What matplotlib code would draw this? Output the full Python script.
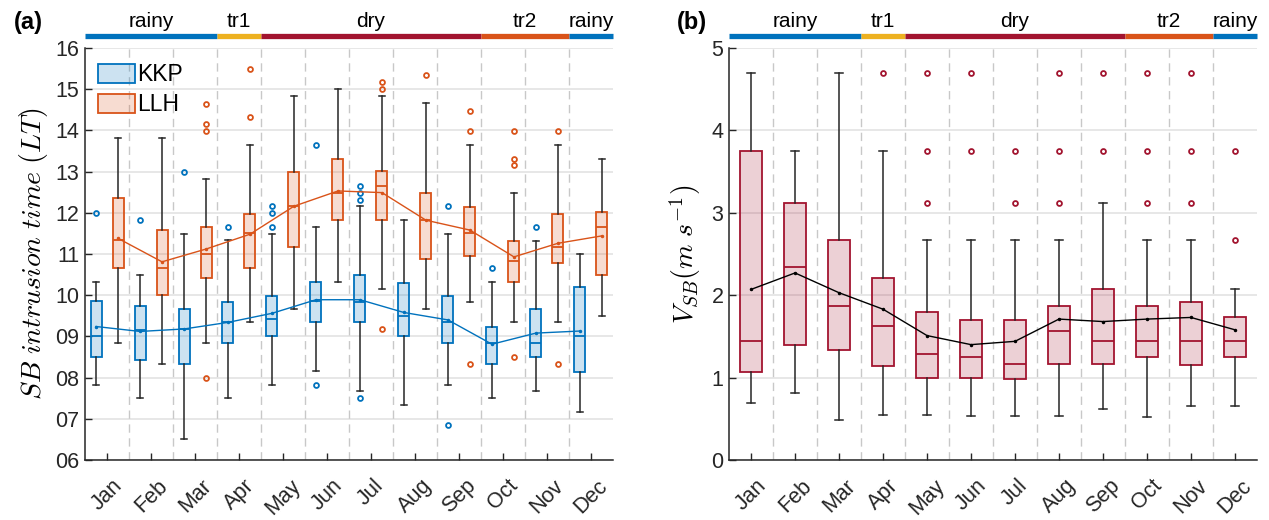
import numpy as np
import matplotlib
matplotlib.use("Agg")
import matplotlib.pyplot as plt
from matplotlib.patches import Patch
from matplotlib.colors import to_rgba

plt.rcParams['font.family'] = ['Liberation Sans', 'DejaVu Sans']
plt.rcParams['mathtext.fontset'] = 'cm'

months = ['Jan', 'Feb', 'Mar', 'Apr', 'May', 'Jun', 'Jul', 'Aug', 'Sep', 'Oct', 'Nov', 'Dec']

# sea breeze intrusion time (LT) at KKP
kkp_whishi = [10.33, 10.5, 11.49, 11.33, 11.49, 11.66, 12.16, 11.82, 11.49, 10.33, 11.32, 11.0]
kkp_q3 = [9.87, 9.74, 9.66, 9.83, 9.99, 10.33, 10.5, 10.29, 9.99, 9.24, 9.66, 10.2]
kkp_med = [9.0, 9.16, 9.18, 9.34, 9.42, 9.85, 9.84, 9.5, 9.34, 8.84, 8.83, 9.0]
kkp_q1 = [8.5, 8.43, 8.33, 8.83, 9.0, 9.34, 9.34, 9.0, 8.83, 8.33, 8.5, 8.13]
kkp_whislo = [7.83, 7.5, 6.5, 7.5, 7.83, 8.17, 7.67, 7.33, 7.83, 7.5, 7.67, 7.17]
kkp_mean = [9.24, 9.12, 9.18, 9.34, 9.56, 9.89, 9.89, 9.58, 9.40, 8.81, 9.08, 9.13]
kkp_fliers = [[12.0], [11.82], [13.0], [11.66], [12.16, 12.0, 11.66], [13.65, 7.83],
              [12.65, 12.49, 12.32, 7.5], [], [12.16, 6.84], [10.66], [11.66], []]

# sea breeze intrusion time (LT) at LLH
llh_whishi = [13.81, 13.81, 12.81, 13.65, 14.84, 15.0, 14.84, 14.66, 13.65, 12.49, 13.65, 13.31]
llh_q3 = [12.36, 11.58, 11.66, 11.98, 12.99, 13.31, 13.02, 12.49, 12.15, 11.32, 11.98, 12.02]
llh_med = [11.34, 10.66, 11.0, 11.5, 12.16, 12.49, 12.65, 11.82, 11.5, 10.82, 11.17, 11.66]
llh_q1 = [10.65, 10.0, 10.41, 10.65, 11.16, 11.82, 11.82, 10.87, 10.95, 10.33, 10.79, 10.5]
llh_whislo = [8.83, 8.34, 8.83, 9.34, 9.67, 10.33, 10.16, 9.66, 9.83, 9.34, 9.34, 9.5]
llh_mean = [11.38, 10.81, 11.12, 11.48, 12.16, 12.53, 12.49, 11.82, 11.58, 10.93, 11.26, 11.44]
llh_fliers = [[], [], [14.65, 14.15, 13.98, 8.0], [15.5, 14.32], [], [],
              [15.17, 15.0, 9.17], [15.34], [14.48, 13.98, 8.33], [13.98, 13.31, 13.15, 8.5],
              [13.98, 8.33], []]

# sea breeze speed V_SB (m/s)
vsb_whishi = [4.7, 3.75, 4.7, 3.75, 2.67, 2.67, 2.67, 2.67, 3.12, 2.67, 2.67, 2.08]
vsb_q3 = [3.75, 3.12, 2.67, 2.21, 1.79, 1.70, 1.70, 1.87, 2.08, 1.87, 1.92, 1.74]
vsb_med = [1.44, 2.34, 1.87, 1.63, 1.29, 1.25, 1.17, 1.56, 1.44, 1.44, 1.44, 1.44]
vsb_q1 = [1.07, 1.39, 1.34, 1.14, 0.99, 0.99, 0.98, 1.17, 1.17, 1.25, 1.15, 1.25]
vsb_whislo = [0.69, 0.81, 0.48, 0.55, 0.55, 0.53, 0.53, 0.53, 0.62, 0.52, 0.65, 0.65]
vsb_mean = [2.07, 2.27, 2.03, 1.83, 1.51, 1.40, 1.44, 1.71, 1.68, 1.71, 1.73, 1.58]
vsb_fliers = [[], [], [], [4.7], [4.7, 3.75, 3.12], [4.7, 3.75], [3.75, 3.12],
              [4.7, 3.75, 3.12], [4.7, 3.75], [4.7, 3.75, 3.12], [4.7, 3.75, 3.12], [3.75, 2.67]]

# seasons: (name, first month, last month, label position)
seasons = [('rainy', 1, 3, 2.0), ('tr1', 4, 4, 4.0), ('dry', 5, 9, 7.0),
           ('tr2', 10, 11, 10.5), ('rainy', 12, 12, 12.0)]
season_colors = {'rainy': '#0072BD', 'tr1': '#EDB120', 'dry': '#A2142F', 'tr2': '#D95319'}

blue = '#0072BD'
orange = '#D95319'
red = '#A2142F'
x = np.arange(1, 13)


def make_stats(lo, q1, med, q3, hi, fl):
    return [dict(whislo=lo[i], q1=q1[i], med=med[i], q3=q3[i], whishi=hi[i], fliers=fl[i])
            for i in range(12)]


def draw_boxes(ax, stats, pos, width, color, capw):
    ax.bxp(stats, positions=pos, widths=width, patch_artist=True, capwidths=capw,
           boxprops=dict(facecolor=to_rgba(color, 0.2), edgecolor=color, linewidth=1.3),
           medianprops=dict(color=color, linewidth=1.3),
           whiskerprops=dict(color='#262626', linewidth=1.1),
           capprops=dict(color='#262626', linewidth=1.1),
           flierprops=dict(marker='o', markerfacecolor='none', markeredgecolor=color,
                           markersize=3.5, markeredgewidth=1.3),
           manage_ticks=False, zorder=3)


def style_axes(ax, ylim, yticks, yticklabels):
    ax.set_xlim(0.5, 12.5)
    ax.set_ylim(*ylim)
    ax.set_yticks(yticks)
    ax.set_yticklabels(yticklabels)
    ax.set_xticks(x)
    ax.set_xticklabels(months, rotation=45, ha='center', va='top')
    ax.tick_params(direction='in', labelsize=15.5, length=5, width=1, colors='#262626')
    ax.tick_params(axis='x', pad=11)
    ax.tick_params(axis='y', pad=4)
    for s in ['top', 'right']:
        ax.spines[s].set_visible(False)
    for s in ['left', 'bottom']:
        ax.spines[s].set_color('#262626')
        ax.spines[s].set_linewidth(1.1)
    for yt in yticks:
        ax.axhline(yt, color='#e3e3e3', lw=1.2, zorder=0)
    for b in np.arange(1.5, 12.5, 1):
        ax.axvline(b, color='#c8c8c8', lw=1, ls=(0, (6, 4)), zorder=0)
    # season bar above the axes
    trans = ax.get_xaxis_transform()
    for name, m0, m1, xl in seasons:
        ax.plot([m0 - 0.5, m1 + 0.5], [1.030, 1.030], color=season_colors[name], lw=3.8,
                solid_capstyle='butt', transform=trans, clip_on=False)
        ax.text(xl, 1.05, name, transform=trans, ha='center', va='baseline', fontsize=15)


fig = plt.figure(figsize=(12.69, 5.2), dpi=100)
ax1 = fig.add_axes([0.067, 0.1154, 0.416, 0.7923])
ax2 = fig.add_axes([0.5745, 0.1154, 0.416, 0.7923])

# (a) intrusion time
style_axes(ax1, (6, 16), np.arange(6, 17), ['%02d' % v for v in range(6, 17)])
draw_boxes(ax1, make_stats(kkp_whislo, kkp_q1, kkp_med, kkp_q3, kkp_whishi, kkp_fliers),
           x - 0.25, 0.25, blue, 0.13)
draw_boxes(ax1, make_stats(llh_whislo, llh_q1, llh_med, llh_q3, llh_whishi, llh_fliers),
           x + 0.25, 0.25, orange, 0.13)
ax1.plot(x - 0.25, kkp_mean, color=blue, lw=1, marker='.', ms=3, zorder=4)
ax1.plot(x + 0.25, llh_mean, color=orange, lw=1, marker='.', ms=3, zorder=4)
ax1.set_ylabel(r'$SB\ intrusion\ time\ (LT)$', fontsize=20, labelpad=4)
leg_handles = [Patch(facecolor=to_rgba(blue, 0.2), edgecolor=blue, lw=1.3, label='KKP'),
               Patch(facecolor=to_rgba(orange, 0.2), edgecolor=orange, lw=1.3, label='LLH')]
ax1.legend(handles=leg_handles, loc='upper left', bbox_to_anchor=(-0.012, 1.01), frameon=False,
           fontsize=16.5, handlelength=1.6, handleheight=0.9, handletextpad=0.1,
           labelspacing=0.3, borderaxespad=0.45)

# (b) sea breeze speed
style_axes(ax2, (0, 5), np.arange(0, 6), [str(v) for v in range(0, 6)])
draw_boxes(ax2, make_stats(vsb_whislo, vsb_q1, vsb_med, vsb_q3, vsb_whishi, vsb_fliers),
           x, 0.5, red, 0.18)
ax2.plot(x, vsb_mean, color='black', lw=1, marker='.', ms=3, zorder=4)
ax2.set_ylabel(r'$V_{SB} (m\ s^{-1})$', fontsize=20, labelpad=6)

fig.text(0.011, 0.957, '(a)', fontsize=17, fontweight='bold', va='center')
fig.text(0.533, 0.957, '(b)', fontsize=17, fontweight='bold', va='center')

fig.savefig('out.png', dpi=100)
